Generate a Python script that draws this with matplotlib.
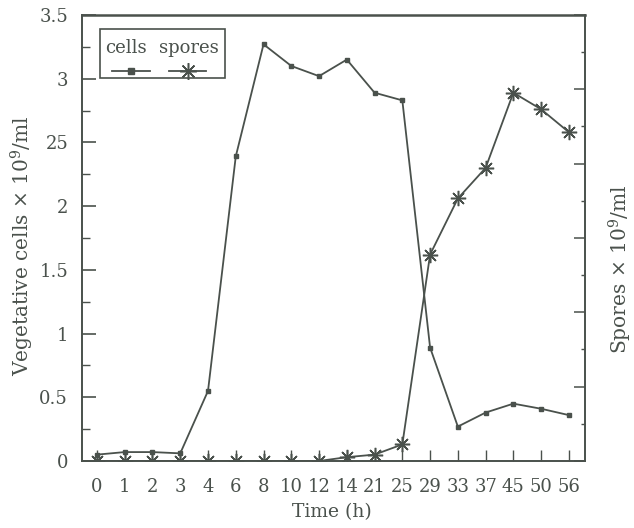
"""
Vegetative cells and spores over time, two-axis line chart
"""

import numpy as np
import matplotlib.pyplot as plt
from matplotlib.patches import Rectangle
from matplotlib.lines import Line2D

plt.rcParams['font.family'] = ['DejaVu Serif']
plt.rcParams['mathtext.fontset'] = 'dejavuserif'

ink = '#4a514c'

# Data (x categories are evenly spaced)
times = ['0', '1', '2', '3', '4', '6', '8', '10', '12', '14', '21', '25',
         '29', '33', '37', '45', '50', '56']
cells = [0.05, 0.07, 0.07, 0.06, 0.55, 2.39, 3.27, 3.10, 3.02, 3.15, 2.89, 2.83,
         0.89, 0.27, 0.38, 0.45, 0.41, 0.36]
spores = [0.0, 0.0, 0.0, 0.0, 0.0, 0.0, 0.0, 0.0, 0.0, 0.03, 0.05, 0.13,
          1.62, 2.06, 2.30, 2.89, 2.76, 2.58]
yticks = [0, 0.5, 1, 1.5, 2, 2.5, 3, 3.5]
ylabels = ['0', '0.5', '1', '1.5', '2', '25', '3', '3.5']

x = np.arange(len(times))

fig = plt.figure(figsize=(6.34, 5.28), dpi=100)
ax = fig.add_axes([0.1293, 0.1269, 0.7934, 0.8447])

ax.plot(x, cells, color=ink, lw=1.3, marker='s', ms=3.5, mfc=ink, mec=ink)
ax.plot(x, spores, color=ink, lw=1.3, marker=(8, 2, 0), ms=11, mew=1.1, mec=ink)

ax.set_xlim(-0.54, 17.58)
ax.set_ylim(0, 3.5)
ax.set_xticks(x)
ax.set_xticklabels(times)
ax.set_yticks(yticks)
ax.set_yticklabels(ylabels)
ax.set_yticks(np.arange(0.25, 3.5, 0.5), minor=True)
ax.tick_params(axis='y', which='major', direction='in', length=10, width=1.2,
               colors=ink, labelsize=13, pad=10, right=False)
ax.tick_params(axis='y', which='minor', direction='in', length=6, width=1.0,
               colors=ink, right=False)
ax.tick_params(axis='x', direction='in', length=8, width=1.0, colors=ink,
               labelsize=13, pad=12, top=False)
for s in ax.spines.values():
    s.set_color(ink)
    s.set_linewidth(1.4)
ax.spines['top'].set_linewidth(1.8)

# right axis for spores (ticks only)
ax2 = ax.twinx()
ax2.set_ylim(0, 12)
ax2.set_yticks(np.arange(0, 13, 2))
ax2.set_yticks(np.arange(1, 12, 2), minor=True)
ax2.set_yticklabels([])
ax2.tick_params(axis='y', which='major', direction='in', length=8, width=1.1, colors=ink)
ax2.tick_params(axis='y', which='minor', direction='in', length=3, width=1.0, colors=ink)
for s in ax2.spines.values():
    s.set_visible(False)

# legend drawn by hand: labels above handles
ax.add_patch(Rectangle((0.036, 0.859), 0.248, 0.110, transform=ax.transAxes,
                       fill=False, ec=ink, lw=1.2, zorder=5))
ax.text(0.087, 0.926, 'cells', transform=ax.transAxes, ha='center', va='center',
        fontsize=13, color=ink)
ax.text(0.213, 0.926, 'spores', transform=ax.transAxes, ha='center', va='center',
        fontsize=13, color=ink)
ax.add_line(Line2D([0.060, 0.135], [0.874, 0.874], transform=ax.transAxes, color=ink,
                   lw=1.3))
ax.add_line(Line2D([0.0975], [0.874], transform=ax.transAxes, color=ink,
                   marker='s', ms=4, ls='none'))
ax.add_line(Line2D([0.173, 0.247], [0.874, 0.874], transform=ax.transAxes, color=ink,
                   lw=1.3))
ax.add_line(Line2D([0.210], [0.874], transform=ax.transAxes, color=ink,
                   marker=(8, 2, 0), ms=12, mew=1.1, ls='none'))

fig.text(0.523, 0.03, 'Time (h)', ha='center', va='center', fontsize=13.5, color=ink)
fig.text(0.035, 0.535, r'Vegetative cells $\times$ 10$^9$/ml', rotation=90,
         ha='center', va='center', fontsize=14.5, color=ink)
fig.text(0.979, 0.49, r'Spores $\times$ 10$^9$/ml', rotation=90,
         ha='center', va='center', fontsize=14.5, color=ink)

fig.savefig('out.png', dpi=100)
